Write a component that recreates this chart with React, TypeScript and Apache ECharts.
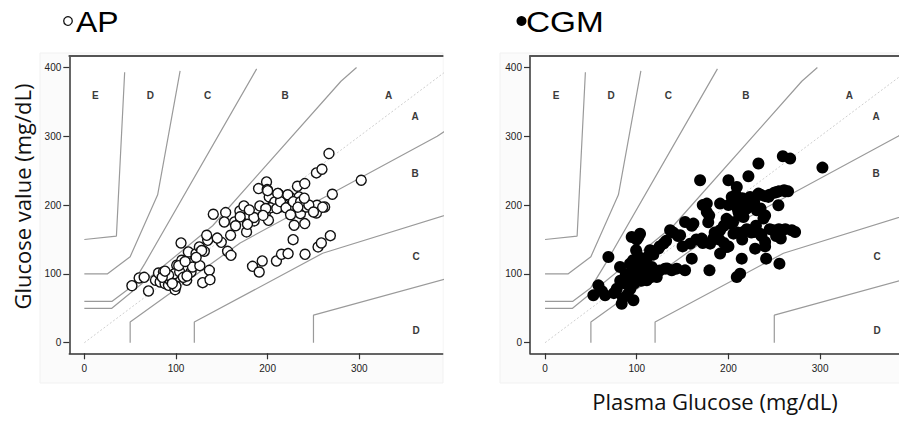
import React, { useEffect, useRef } from "react";
import * as echarts from "echarts";

const tickValuesX = [0, 100, 200, 300];
const tickValuesY = [0, 100, 200, 300, 400];

const apPoints: number[][] = [
  [51.9, 82.9], [59.8, 94.1], [65.3, 95.0], [70.0, 75.2], [77.6, 90.7], [80.9, 101.3], [82.7, 88.2], [86.3, 102.8],
  [88.1, 85.8], [91.8, 83.4], [93.6, 90.7], [97.2, 91.6], [99.0, 77.1], [100.8, 112.5], [102.6, 95.5], [105.5, 145.0],
  [106.3, 119.8], [109.9, 105.2], [111.7, 90.7], [113.5, 131.9], [116.4, 102.8], [119.0, 117.3], [121.9, 129.5],
  [125.5, 139.2], [129.1, 87.3], [130.9, 132.8], [134.6, 148.8], [136.4, 105.2], [137.1, 91.6], [133.5, 156.1],
  [140.7, 186.7], [149.4, 145.9], [154.2, 189.1], [152.7, 175.5], [156.3, 132.8], [160.0, 127.0], [159.6, 156.1],
  [163.9, 175.5], [169.7, 191.5], [174.1, 198.8], [177.0, 161.0], [179.9, 184.2], [183.5, 111.0], [185.3, 177.0],
  [190.1, 224.0], [191.5, 198.8], [190.8, 102.8], [194.1, 118.8], [198.8, 233.7], [199.5, 222.5], [197.7, 189.1],
  [200.9, 177.9], [201.7, 211.9], [205.3, 199.8], [207.8, 204.6], [209.6, 118.8], [211.5, 216.7], [213.3, 197.3],
  [215.1, 128.5], [216.2, 202.2], [218.7, 209.5], [222.3, 129.5], [224.2, 211.9], [226.0, 198.3], [227.8, 149.8],
  [228.9, 170.7], [232.5, 227.4], [233.2, 194.9], [234.3, 211.9], [235.8, 187.6], [237.9, 198.8], [240.5, 173.1],
  [240.8, 128.5], [240.5, 231.3], [242.3, 197.3], [247.7, 198.3], [253.2, 188.6], [253.9, 199.8], [253.2, 246.8],
  [259.3, 252.1], [255.0, 139.2], [258.6, 145.0], [262.2, 197.3], [266.9, 274.9], [268.4, 155.6], [270.6, 215.8],
  [302.1, 236.1],
  [95, 95], [98, 100], [92, 98], [85, 95], [104, 103], [108, 95], [100, 82], [96, 86], [88, 104], [112, 97],
  [103, 112], [118, 110], [126, 112], [110, 118], [203, 196], [210, 195], [198, 195], [214, 205], [220, 196],
  [222, 215], [228, 205], [236, 205], [245, 200], [250, 190], [185, 182], [178, 172], [170, 183], [165, 170],
  [145, 152], [128, 134], [122, 124], [195, 185], [180, 193], [240, 210], [225, 186], [200, 221], [211, 217],
  [233, 197], [260, 197],
];

const cgmPoints: number[][] = [
  [52.7, 68.8], [58.2, 83.4], [65.5, 68.8], [69.1, 124.6], [78.2, 78.5], [81.8, 110], [83.6, 56.7], [87.3, 85.8],
  [89, 95.5], [92.7, 115], [94.5, 153.7], [96.4, 61.6], [97, 85.8], [99.3, 134.3], [101.8, 153.7], [103.6, 158.5],
  [105.5, 100.4], [100, 110], [101.8, 119.8], [107.3, 115], [110.9, 90.7], [114.5, 134.3], [116.4, 110],
  [121.8, 95.5], [123.6, 136.7], [129.1, 144], [130.9, 107.6], [136.4, 163.4], [138.2, 105.2], [143.6, 107.6],
  [147.3, 156.1], [152.7, 175.5], [152.7, 105.2], [158.2, 144], [160, 122.2], [161.8, 173.1], [169.1, 236.1],
  [170.9, 151.3], [176.4, 202.2], [176.4, 190.1], [179.3, 105.2], [180, 144], [184.4, 153.7], [190.9, 163.4],
  [190.9, 129.5], [190.9, 202.2], [198.2, 139.2], [200, 236.1], [201.8, 173.1], [203.6, 211.9], [205.5, 158.5],
  [209.1, 226.4], [210.9, 190.1], [212.7, 202.2], [209.1, 95.5], [212.7, 100.4], [214.5, 122.2], [216.4, 182.8],
  [216.4, 161], [221.8, 241.9], [223.6, 211.9], [227.3, 161], [229.1, 136.7], [230.9, 192.5], [232.7, 260.4],
  [232.7, 216.7], [234.5, 158.5], [238.2, 180.4], [240, 146.4], [241.1, 122.2], [243.6, 211.9], [249.1, 163.4],
  [252.7, 219.1], [254.5, 199.8], [255.6, 114.9], [257.1, 151.3], [259.3, 271], [260.7, 221.6], [267.3, 267.6],
  [269.1, 163.4], [272.7, 161], [302.5, 254.5],
  [88, 100], [92, 90], [95, 105], [98, 95], [100, 100], [102, 125], [105, 110], [108, 120], [96, 120], [93, 78],
  [90, 70], [85, 65], [82, 90], [110, 100], [115, 95], [105, 90], [112, 125], [118, 128], [125, 140], [132, 148],
  [140, 160], [145, 155], [150, 140], [165, 150], [172, 145], [185, 160], [195, 170], [200, 200], [205, 205],
  [208, 215], [210, 195], [212, 185], [215, 210], [218, 205], [220, 195], [225, 210], [228, 205], [235, 215],
  [240, 213], [245, 215], [250, 218], [255, 220], [262, 220], [220, 165], [225, 160], [230, 170], [236, 155],
  [245, 165], [255, 165], [262, 165], [205, 175], [198, 180], [210, 160], [215, 150], [240, 185], [235, 195],
  [200, 140], [195, 145], [160, 170], [178, 175], [183, 150], [190, 150], [240, 140], [252, 155], [125, 105],
  [133, 108], [62, 75], [75, 72], [100, 150], [172, 200], [179, 185], [265, 220],
];

// Parkes error grid boundaries
const deUpper = [[0, 150], [35, 155], [44, 393]];
const cdUpper = [[0, 100], [25, 100], [50, 125], [80, 215], [104.5, 395]];
const bcUpper = [[0, 60], [30, 60], [50, 80], [66, 115], [188, 398]];
const abUpper = [[0, 50], [30, 50], [140, 170], [280, 380], [297, 400]];
const abLower = [[50, 0], [50, 30], [170, 145], [385, 300], [550, 450]];
const bcLower = [[120, 0], [120, 30], [260, 130], [550, 250]];
const cdLower = [[250, 0], [250, 40], [550, 150]];
const identityLine = [[0, 0], [420, 420]];

const zoneLabels: (number | string)[][] = [
  [12, 360, "E"], [72, 360, "D"], [134.5, 360, "C"], [219, 360, "B"], [332, 360, "A"],
  [361, 329, "A"], [361, 246, "B"], [362, 125, "C"], [362, 18, "D"],
];

const GRID_TOP = 56;
const GRID_H = 297.3;

export default function App() {
  const ref = useRef<HTMLDivElement>(null);
  useEffect(() => {
    if (!ref.current) return;
    const chart = echarts.init(ref.current, undefined, { renderer: "svg" });
    const lineSets = [deUpper, cdUpper, bcUpper, abUpper, abLower, bcLower, cdLower];
    const tickFont = { color: "#222", fontSize: 10, fontFamily: "Liberation Sans" };
    const mkX = (gi: number, max: number) => ({
      type: "value", gridIndex: gi, min: -16.4, max, position: "bottom",
      splitLine: { show: false },
      axisLine: { show: true, onZero: false, lineStyle: { color: "#333", width: 1.5 } },
      axisTick: { show: true, length: 6, customValues: tickValuesX, lineStyle: { color: "#333", width: 1.2 } },
      axisLabel: { ...tickFont, margin: 10, customValues: tickValuesX },
    });
    const mkTop = (gi: number, max: number) => ({
      type: "value", gridIndex: gi, min: -16.4, max, position: "top",
      splitLine: { show: false },
      axisLine: { show: true, onZero: false, lineStyle: { color: "#555", width: 1.8 } },
      axisTick: { show: false }, axisLabel: { show: false },
    });
    const mkY = (gi: number) => ({
      type: "value", gridIndex: gi, min: -15.4, max: 416.7,
      splitLine: { show: false },
      axisLine: { show: true, onZero: false, lineStyle: { color: "#333", width: 1.5 } },
      axisTick: { show: true, length: 6, customValues: tickValuesY, lineStyle: { color: "#333", width: 1.2 } },
      axisLabel: { ...tickFont, margin: 8, customValues: tickValuesY },
    });
    const series: any[] = [];
    [0, 1].forEach((gi) => {
      lineSets.forEach((d) => {
        series.push({
          type: "line", xAxisIndex: gi, yAxisIndex: gi, data: d, symbol: "none", clip: true,
          lineStyle: { color: "#9a9a9a", width: 1.2 }, silent: true, z: 1,
        });
      });
      series.push({
        type: "line", xAxisIndex: gi, yAxisIndex: gi, data: identityLine, symbol: "none", clip: true,
        lineStyle: { color: "#cfcfcf", width: 1, type: [2, 2] }, silent: true, z: 1,
      });
      series.push({
        type: "scatter", xAxisIndex: gi, yAxisIndex: gi, data: zoneLabels, symbolSize: 1,
        itemStyle: { color: "rgba(255,255,255,0)" }, silent: true,
        label: {
          show: true, position: "inside", formatter: (p: any) => p.value[2],
          color: "#3a3a3a", opacity: 1, fontSize: 10, fontWeight: "bold", fontFamily: "Liberation Sans",
          textBorderWidth: 0,
        },
      });
    });
    series.push({
      type: "scatter", xAxisIndex: 0, yAxisIndex: 0, data: apPoints, symbol: "circle", symbolSize: 10,
      itemStyle: { color: "#fff", borderColor: "#111", borderWidth: 1.4, opacity: 1 }, z: 3,
    });
    series.push({
      type: "scatter", xAxisIndex: 1, yAxisIndex: 1, data: cgmPoints, symbol: "circle", symbolSize: 12,
      itemStyle: { color: "#000", opacity: 1 }, z: 3,
    });

    chart.setOption({
      animation: false,
      backgroundColor: "#fff",
      grid: [
        { left: 69.3, top: GRID_TOP, width: 373.4, height: GRID_H, show: true, backgroundColor: "#fff", borderWidth: 0 },
        { left: 530, top: GRID_TOP, width: 369, height: GRID_H, show: true, backgroundColor: "#fff", borderWidth: 0 },
      ],
      xAxis: [mkX(0, 391), mkX(1, 386), mkTop(0, 391), mkTop(1, 386)],
      yAxis: [mkY(0), mkY(1)],
      series,
      graphic: [
        { type: "rect", z: -10, shape: { x: 40, y: 53, width: 403, height: 330 }, style: { fill: "#fbfbfb", stroke: "#f1f1f1" } },
        { type: "rect", z: -10, shape: { x: 500, y: 53, width: 400, height: 330 }, style: { fill: "#fbfbfb", stroke: "#f1f1f1" } },
        { type: "circle", shape: { cx: 68, cy: 21, r: 4.3 }, style: { fill: "none", stroke: "#111", lineWidth: 1.3 } },
        { type: "text", x: 76, y: 22, scaleX: 1.1, style: { text: "AP", font: '29px "Liberation Sans"', fill: "#000", verticalAlign: "middle" } },
        { type: "circle", shape: { cx: 521.5, cy: 21, r: 5 }, style: { fill: "#000" } },
        { type: "text", x: 526, y: 22, scaleX: 1.15, style: { text: "CGM", font: '29px "Liberation Sans"', fill: "#000", verticalAlign: "middle" } },
        { type: "text", x: 22, y: 196.5, rotation: Math.PI / 2, style: { text: "Glucose value (mg/dL)", font: '22px "Open Sans"', fill: "#111", align: "center", verticalAlign: "middle" } },
        { type: "text", x: 715, y: 401, style: { text: "Plasma Glucose (mg/dL)", font: '22px "Open Sans"', fill: "#111", align: "center", verticalAlign: "middle" } },
      ],
    });
    return () => chart.dispose();
  }, []);
  return <div ref={ref} style={{ position: "absolute", left: 0, top: 0, width: 899, height: 421 }} />;
}
